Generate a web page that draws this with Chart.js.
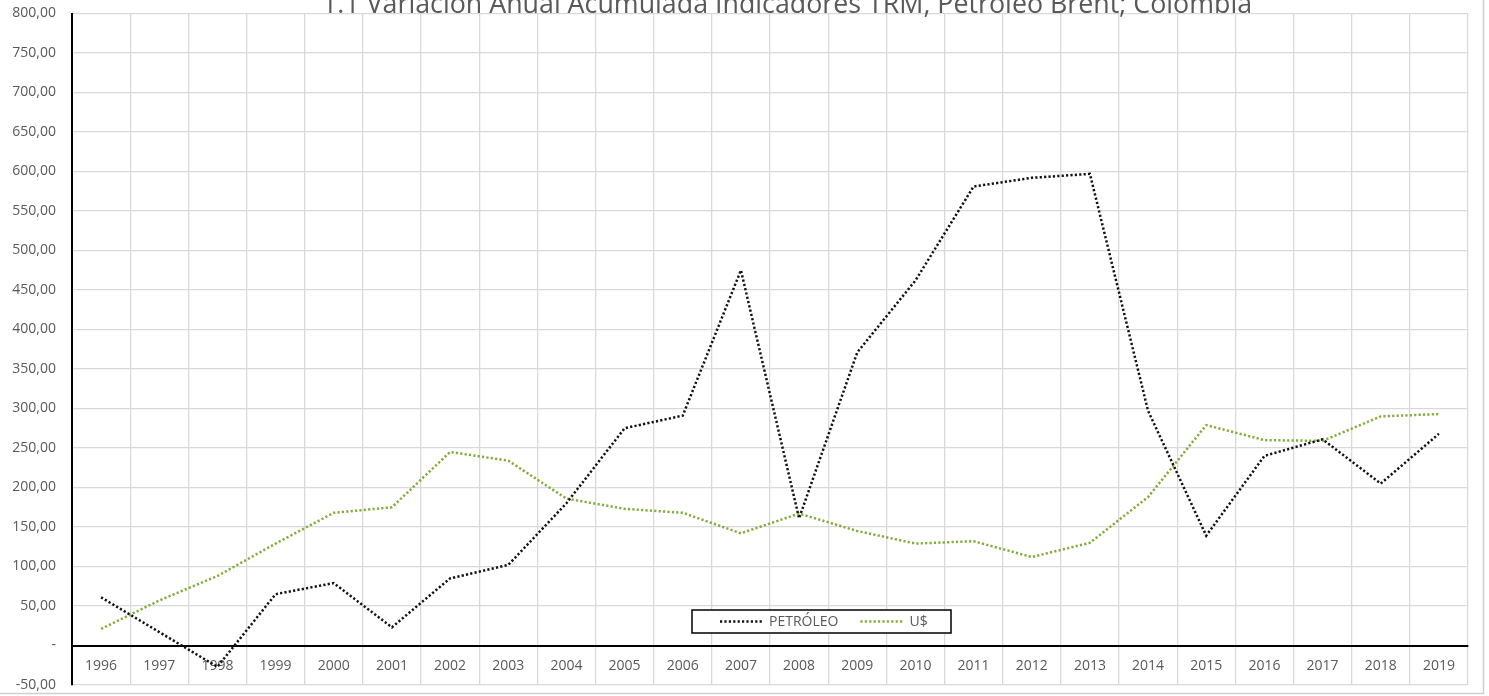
<!DOCTYPE html>
<html>
<head>
<meta charset="utf-8">
<script src="https://cdn.jsdelivr.net/npm/chart.js@4.4.0/dist/chart.umd.min.js"></script>
<style>
  html, body { margin: 0; padding: 0; background: #fff; }
</style>
</head>
<body>
<canvas id="grafico" width="1489" height="696"></canvas>
<script>
// datos
const anios = ["1996","1997","1998","1999","2000","2001","2002","2003","2004","2005","2006","2007",
               "2008","2009","2010","2011","2012","2013","2014","2015","2016","2017","2018","2019"];
const petroleo = [61, 17, -27, 65, 79, 23, 85, 102, 180, 275, 291, 475,
                  161, 371, 462, 581, 592, 597, 297, 139, 240, 261, 205, 268];
const dolar = [21, 57, 88, 129, 168, 175, 245, 234, 186, 173, 168, 142,
               167, 145, 129, 132, 112, 130, 188, 279, 260, 259, 290, 293];
const ejeY = [-50, 800, 50]; // min, max, paso
const titulo = "1.1 Variación Anual Acumulada Indicadores TRM, Petróleo Brent; Colombia";
const etiquetas = ["PETRÓLEO", "U$"];

const gris = "#595959";
const fuente = "'Open Sans', sans-serif";

// titulo (cortado arriba, como en el original)
const pluginTitulo = {
  id: "titulo",
  afterDraw(chart) {
    const ctx = chart.ctx;
    ctx.save();
    ctx.font = "26.8px " + fuente;
    ctx.fillStyle = gris;
    ctx.textAlign = "center";
    ctx.textBaseline = "alphabetic";
    ctx.fillText(titulo, 787, 12.5);
    ctx.restore();
  }
};

// leyenda dentro del area del grafico, con recuadro negro
const pluginLeyenda = {
  id: "leyendaCaja",
  afterDraw(chart) {
    const ctx = chart.ctx;
    const x = 692, y = 610, w = 259, h = 23;
    ctx.save();
    ctx.fillStyle = "#fff";
    ctx.fillRect(x, y, w, h);
    ctx.strokeStyle = "#000";
    ctx.lineWidth = 1.5;
    ctx.strokeRect(x, y, w, h);
    ctx.font = "14px " + fuente;
    ctx.textBaseline = "middle";
    let px = x + 28;
    chart.data.datasets.forEach((ds) => {
      ctx.strokeStyle = ds.borderColor;
      ctx.lineWidth = ds.borderWidth;
      ctx.setLineDash(ds.borderDash);
      ctx.beginPath();
      ctx.moveTo(px, y + h / 2);
      ctx.lineTo(px + 43, y + h / 2);
      ctx.stroke();
      ctx.setLineDash([]);
      ctx.fillStyle = gris;
      ctx.fillText(ds.label, px + 49, y + h / 2 + 1);
      px += 49 + ctx.measureText(ds.label).width + 22;
    });
    ctx.restore();
  }
};

// fondo blanco y borde gris del area del grafico
const pluginFondo = {
  id: "fondo",
  beforeDraw(chart) {
    const ctx = chart.ctx;
    ctx.save();
    ctx.fillStyle = "#fff";
    ctx.fillRect(0, 0, chart.width, chart.height);
    ctx.strokeStyle = "#d0d0d0";
    ctx.lineWidth = 1.5;
    ctx.strokeRect(-2, -2, 1485.5, 695.5);
    ctx.restore();
  }
};

const ctx = document.getElementById("grafico").getContext("2d");

const chart = new Chart(ctx, {
  type: "line",
  data: {
    labels: anios,
    datasets: [
      {
        label: etiquetas[0],
        data: petroleo,
        borderColor: "#111111",
        borderWidth: 2.5,
        borderDash: [2.2, 2.2],
        pointRadius: 0,
        tension: 0,
        fill: false,
      },
      {
        label: etiquetas[1],
        data: dolar,
        borderColor: "#84ab3c",
        borderWidth: 2.5,
        borderDash: [2.2, 2.2],
        pointRadius: 0,
        tension: 0,
        fill: false,
      },
    ],
  },
  options: {
    responsive: false,
    animation: false,
    layout: { autoPadding: false, padding: { left: 0, top: 13.5, right: 21, bottom: 11 } },
    plugins: {
      legend: { display: false },
      title: { display: false },
      tooltip: { enabled: false },
    },
    scales: {
      x: {
        position: { y: 0 },
        offset: true,
        afterFit(scale) { scale.paddingLeft = 0; scale.paddingRight = 0; },
        grid: {
          offset: true,
          color: "#d9d9d9",
          lineWidth: 1.3,
          drawTicks: false,
        },
        border: { display: true, color: "#000", width: 2 },
        ticks: {
          color: gris,
          font: { family: fuente, size: 14 },
          padding: 12,
          maxRotation: 0,
          autoSkip: false,
        },
      },
      y: {
        min: ejeY[0],
        max: ejeY[1],
        afterFit(scale) {
          scale.width = 72;
          scale.paddingTop = 0;
          scale.paddingBottom = 0;
        },
        grid: {
          color: (c) => (c.tick && c.tick.value === 0 ? "#000" : "#d9d9d9"),
          lineWidth: (c) => (c.tick && c.tick.value === 0 ? 2 : 1.3),
          drawTicks: false,
        },
        border: { display: true, color: "#000", width: 2 },
        ticks: {
          stepSize: ejeY[2],
          color: gris,
          font: { family: fuente, size: 14 },
          padding: 16,
          callback: (v) => (v === 0 ? "-" : v.toFixed(2).replace(".", ",")),
        },
      },
    },
  },
  plugins: [pluginFondo, pluginTitulo, pluginLeyenda],
});
</script>
</body>
</html>
